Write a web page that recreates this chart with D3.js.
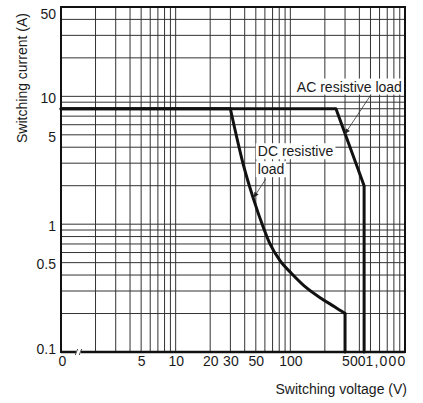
<!DOCTYPE html>
<html>
<head>
<meta charset="utf-8">
<script src="https://cdn.jsdelivr.net/npm/d3@7"></script>
<style>
  body { margin: 0; background: #fff; }
  svg { font-family: "Liberation Sans", Arial, sans-serif; }
</style>
</head>
<body>
<div id="chart"></div>
<script>
// data
const xTicks = [1, 5, 10, 20, 30, 50, 100, 500, 1000];
const xTickLabels = ['0', '5', '10', '20', '30', '50', '100', '500', '1,000'];
const yTicks = [0.1, 0.5, 1, 5, 10, 50];
const yTickLabels = ['0.1', '0.5', '1', '5', '10', '50'];

// AC resistive load (voltage V, current A)
const acVoltage = [1, 250, 440, 440];
const acCurrent = [8, 8, 2, 0.1];

// DC resistive load: flat part, curved part, drop
const dcFlatVoltage = [1, 30];
const dcFlatCurrent = [8, 8];
const dcCurveVoltage = [30, 39, 48, 57, 66, 81, 103, 137, 189, 245, 300];
const dcCurveCurrent = [8, 2.9, 1.55, 0.99, 0.71, 0.52, 0.41, 0.32, 0.26, 0.225, 0.2];
const dcDropVoltage = [300, 300];
const dcDropCurrent = [0.2, 0.1];

// annotation anchors in data units
const annoText = [['AC resistive load'], ['DC resistive', 'load']];
const annoTextAt = [[114, 10.9], [52, 3.4]];
const annoArrowFrom = [[505, 10.3], [61, 2.25]];
const annoArrowTo = [[300, 5.1], [48, 1.62]];

const breakAt = 1.42;

const W = 423, H = 403;
const margin = {l: 61, r: 18, t: 7, b: 51};
const w = W - margin.l - margin.r;
const h = H - margin.t - margin.b;

const svg = d3.select('#chart').append('svg')
	.attr('width', W)
	.attr('height', H);

const x = d3.scaleLog().domain([1, 1000]).range([margin.l, margin.l + w]);
const y = d3.scaleLog().domain([0.1, 50]).range([margin.t + h, margin.t]);

//grid
const grid = svg.append('g').attr('class', 'grid')
	.attr('stroke', '#333')
	.attr('stroke-width', 1);
grid.selectAll('.vx')
	.data(x.ticks())
	.join('line')
	.attr('x1', d => x(d)).attr('x2', d => x(d))
	.attr('y1', margin.t).attr('y2', margin.t + h);
grid.selectAll('.hy')
	.data(y.ticks())
	.join('line')
	.attr('y1', d => y(d)).attr('y2', d => y(d))
	.attr('x1', margin.l).attr('x2', margin.l + w);

//frame
svg.append('rect')
	.attr('x', margin.l).attr('y', margin.t)
	.attr('width', w).attr('height', h)
	.attr('fill', 'none')
	.attr('stroke', '#111')
	.attr('stroke-width', 2);
svg.append('line')
	.attr('x1', margin.l).attr('x2', margin.l + w)
	.attr('y1', margin.t + h).attr('y2', margin.t + h)
	.attr('stroke', '#111')
	.attr('stroke-width', 2.6);

//axis break
const bx = x(breakAt);
svg.append('rect')
	.attr('x', bx - 2.5).attr('y', margin.t + h - 3)
	.attr('width', 5).attr('height', 5)
	.attr('fill', '#fff');
[-2, 2].forEach(off => {
	svg.append('line')
		.attr('x1', bx + off - 1.2).attr('x2', bx + off + 1.2)
		.attr('y1', margin.t + h + 3).attr('y2', margin.t + h - 3)
		.attr('stroke', '#333')
		.attr('stroke-width', 0.9);
});

//curves
const line = d3.line().x(d => x(d[0])).y(d => y(d[1]));
const curve = d3.line().x(d => x(d[0])).y(d => y(d[1])).curve(d3.curveMonotoneX);
const curves = svg.append('g')
	.attr('fill', 'none')
	.attr('stroke', '#111')
	.attr('stroke-width', 3)
	.attr('stroke-linejoin', 'round')
	.attr('stroke-linecap', 'round');
curves.append('path').attr('d', line(d3.zip(acVoltage, acCurrent)));
curves.append('path').attr('d', line(d3.zip(dcFlatVoltage, dcFlatCurrent)));
curves.append('path').attr('d', curve(d3.zip(dcCurveVoltage, dcCurveCurrent)));
curves.append('path').attr('d', line(d3.zip(dcDropVoltage, dcDropCurrent)));

//annotations
svg.append('defs').append('marker')
	.attr('id', 'arrow')
	.attr('viewBox', '0 0 10 10')
	.attr('refX', 10).attr('refY', 5)
	.attr('markerWidth', 7).attr('markerHeight', 5)
	.attr('orient', 'auto')
	.attr('markerUnits', 'userSpaceOnUse')
	.append('path')
	.attr('d', 'M0,0L10,5L0,10z')
	.attr('fill', '#222');

const anno = svg.append('g').attr('class', 'anno');
annoText.forEach((lines, i) => {
	const g = anno.append('g');
	const [tx, ty] = annoTextAt[i];
	lines.forEach((t, j) => {
		const bg = g.append('rect').attr('fill', '#fff');
		const txt = g.append('text')
			.attr('x', x(tx))
			.attr('y', y(ty) + j * 18)
			.attr('font-size', 14)
			.attr('fill', '#1a1a1a')
			.text(t);
		const bb = txt.node().getBBox();
		bg.attr('x', bb.x - 2).attr('y', bb.y)
			.attr('width', bb.width + 4).attr('height', bb.height);
	});
	g.append('line')
		.attr('x1', x(annoArrowFrom[i][0])).attr('y1', y(annoArrowFrom[i][1]))
		.attr('x2', x(annoArrowTo[i][0])).attr('y2', y(annoArrowTo[i][1]))
		.attr('stroke', '#333')
		.attr('stroke-width', 0.8)
		.attr('marker-end', 'url(#arrow)');
});

//axes
const axisX = d3.axisBottom(x)
	.tickValues(xTicks)
	.tickFormat((d, i) => xTickLabels[i])
	.tickSize(0)
	.tickPadding(4.5);
const gx = svg.append('g')
	.attr('transform', `translate(0,${margin.t + h})`)
	.call(axisX);
gx.select('.domain').remove();
gx.selectAll('text')
	.attr('font-size', 14)
	.attr('font-family', '"Liberation Sans", Arial, sans-serif')
	.attr('fill', '#1a1a1a');
// crowded labels at the right end
gx.selectAll('.tick text')
	.filter(d => d === 500)
	.attr('text-anchor', 'end')
	.attr('dx', -5.5);
gx.selectAll('.tick text')
	.filter(d => d === 1000)
	.attr('text-anchor', 'start')
	.attr('dx', -40)
	.attr('letter-spacing', 1.2);
gx.selectAll('.tick text')
	.filter(d => d === 1)
	.attr('dx', 1);

const axisY = d3.axisLeft(y)
	.tickValues(yTicks)
	.tickFormat((d, i) => yTickLabels[i])
	.tickSize(0)
	.tickPadding(5);
const gy = svg.append('g')
	.attr('transform', `translate(${margin.l},0)`)
	.call(axisY);
gy.select('.domain').remove();
gy.selectAll('text')
	.attr('font-size', 14)
	.attr('font-family', '"Liberation Sans", Arial, sans-serif')
	.attr('fill', '#1a1a1a')
	.attr('dy', d => d === 50 ? '0.82em' : d === 0.1 ? '0.1em' : '0.45em');

//titles
svg.append('text')
	.attr('x', margin.l + w + 2)
	.attr('y', 394)
	.attr('text-anchor', 'end')
	.attr('font-size', 14)
	.attr('fill', '#1a1a1a')
	.text('Switching voltage (V)');
svg.append('text')
	.attr('transform', `translate(27,${78}) rotate(-90)`)
	.attr('text-anchor', 'middle')
	.attr('font-size', 14)
	.attr('fill', '#1a1a1a')
	.text('Switching current (A)');
</script>
</body>
</html>
